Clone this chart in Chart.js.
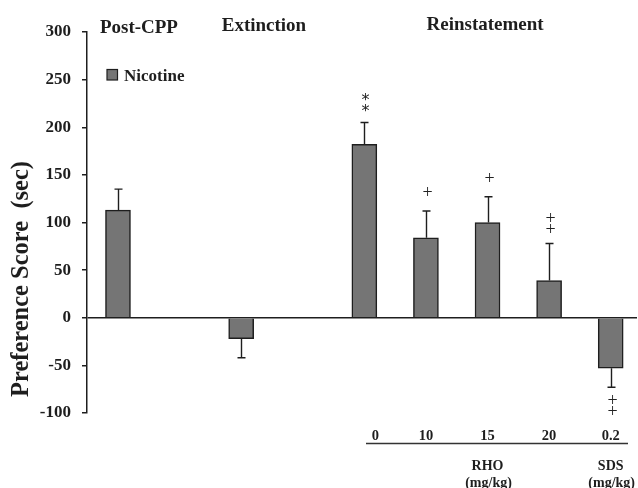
<!DOCTYPE html>
<html><head><meta charset="utf-8">
<script src="https://cdn.jsdelivr.net/npm/chart.js@4/dist/chart.umd.min.js"></script>
<style>html,body{margin:0;padding:0;background:#fff;overflow:hidden}#wrap{width:638px;height:488px;position:relative}</style>
</head><body><div id="wrap"><canvas id="c" width="638" height="488"></canvas></div>
<script>
// ---- data ----
const categories = ['Post-CPP', 'Extinction', '0', '10', '15', '20', '0.2'];
const slots = [0, 2, 4, 5, 6, 7, 8];           // category slot (gaps between phases)
const nicotine = [113, -22, 182, 84, 100, 39, -53];
const sem = [22, 20, 23, 28, 27, 39, 20];
const marks = ['', '', '**', '+', '+', '++', '++'];
const yTicks = [-100, -50, 0, 50, 100, 150, 200, 250, 300];
const phases = ['Post-CPP', 'Extinction', 'Reinstatement'];
const phaseSlot = [0.34, 2.37, 5.96];
const drugs = ['RHO', 'SDS'];
const drugSlot = [6, 8];
const unitLabel = '(mg/kg)';
const seriesName = 'Nicotine';

const SERIF = '"Liberation Serif", "Times New Roman", serif';
const INK = '#1e1e1e';

const overlay = {
  id: 'overlay',
  afterDatasetsDraw(chart) {
    const ctx = chart.ctx, xs = chart.scales.x, ys = chart.scales.y;
    ctx.save();
    // error bars
    ctx.strokeStyle = INK; ctx.lineWidth = 1.4;
    nicotine.forEach((v, i) => {
      const x = Math.round(xs.getPixelForValue(slots[i])) + 0.5;
      const dir = v >= 0 ? 1 : -1;
      const y0 = ys.getPixelForValue(v);
      const y1 = ys.getPixelForValue(v + dir * sem[i]);
      ctx.beginPath();
      ctx.moveTo(x, y0); ctx.lineTo(x, y1);
      ctx.moveTo(x - 4, y1); ctx.lineTo(x + 4, y1);
      ctx.stroke();
      // significance marks
      const m = marks[i];
      if (m) {
        const n = m.length;
        const first = n > 1 ? 13.5 : 17.5;
        ctx.fillStyle = '#222';
        ctx.textAlign = 'center'; ctx.textBaseline = 'middle';
        for (let k = 0; k < n; k++) {
          const yy = y1 - dir * (first + (n - 1 - k) * 11);
          if (m[k] === '*') {
            ctx.font = '16px "DejaVu Sans", sans-serif';
            ctx.fillText('*', x + 1, yy + 3);
          } else {
            ctx.font = '18px ' + SERIF;
            ctx.fillText('+', x + 1, yy);
          }
        }
      }
    });
    // phase headers
    ctx.fillStyle = INK; ctx.textAlign = 'center'; ctx.textBaseline = 'alphabetic';
    ctx.font = 'bold 19px ' + SERIF;
    const hy = [32.5, 31, 29.5];
    phases.forEach((p, i) => ctx.fillText(p, xs.getPixelForValue(phaseSlot[i]), hy[i]));
    // legend
    ctx.fillStyle = '#757575'; ctx.strokeStyle = INK; ctx.lineWidth = 1.2;
    ctx.fillRect(107, 69.5, 10.5, 10.5); ctx.strokeRect(107, 69.5, 10.5, 10.5);
    ctx.fillStyle = INK; ctx.textAlign = 'left';
    ctx.font = 'bold 17px ' + SERIF;
    ctx.fillText(seriesName, 124, 81);
    // dose labels under reinstatement bars
    ctx.textAlign = 'center';
    ctx.font = 'bold 14.5px ' + SERIF;
    for (let i = 2; i < categories.length; i++) {
      const nudge = i === 2 ? 11 : 0;
      ctx.fillText(categories[i], xs.getPixelForValue(slots[i]) + nudge, 439.5);
    }
    ctx.strokeStyle = '#333'; ctx.lineWidth = 1.6;
    ctx.beginPath(); ctx.moveTo(366, 443.5); ctx.lineTo(628, 443.5); ctx.stroke();
    ctx.font = 'bold 14px ' + SERIF;
    drugs.forEach((d, i) => {
      const x = xs.getPixelForValue(drugSlot[i]);
      ctx.fillText(d, x, 470);
      ctx.fillText(unitLabel, x + 1, 487);
    });
    // y title
    ctx.save();
    ctx.translate(28, 279); ctx.rotate(-Math.PI / 2);
    ctx.font = 'bold 24.5px ' + SERIF; ctx.textAlign = 'center'; ctx.textBaseline = 'alphabetic';
    ctx.fillText('Preference Score  (sec)', 0, 0);
    ctx.restore();
    ctx.restore();
  }
};

new Chart(document.getElementById('c'), {
  type: 'bar',
  data: {
    datasets: [{
      label: seriesName,
      data: slots.map((s, i) => ({ x: s, y: nicotine[i] })),
      backgroundColor: '#757575',
      borderColor: INK,
      borderWidth: 1.5,
      barThickness: 25
    }]
  },
  options: {
    responsive: false,
    animation: false,
    devicePixelRatio: 1,
    layout: { padding: { left: 0, top: 32, right: 1, bottom: 75 } },
    plugins: { legend: { display: false }, tooltip: { enabled: false } },
    scales: {
      x: { type: 'linear', offset: false, min: -0.503, max: 8.427, display: false },
      y: {
        min: -100, max: 300,
        afterBuildTicks: s => { s.ticks = yTicks.map(v => ({ value: v })); },
        afterFit: s => { s.width = 87; },
        border: { display: true, color: INK, width: 1.5 },
        grid: {
          drawOnChartArea: true,
          color: c => (c.tick && c.tick.value === 0) ? INK : 'rgba(0,0,0,0)',
          lineWidth: 1.5,
          tickColor: INK,
          tickLength: 5
        },
        ticks: {
          color: INK,
          padding: 11,
          font: { family: SERIF, size: 17, weight: 'bold' },
          callback: v => String(v)
        }
      }
    }
  },
  plugins: [overlay]
});
</script></body></html>
